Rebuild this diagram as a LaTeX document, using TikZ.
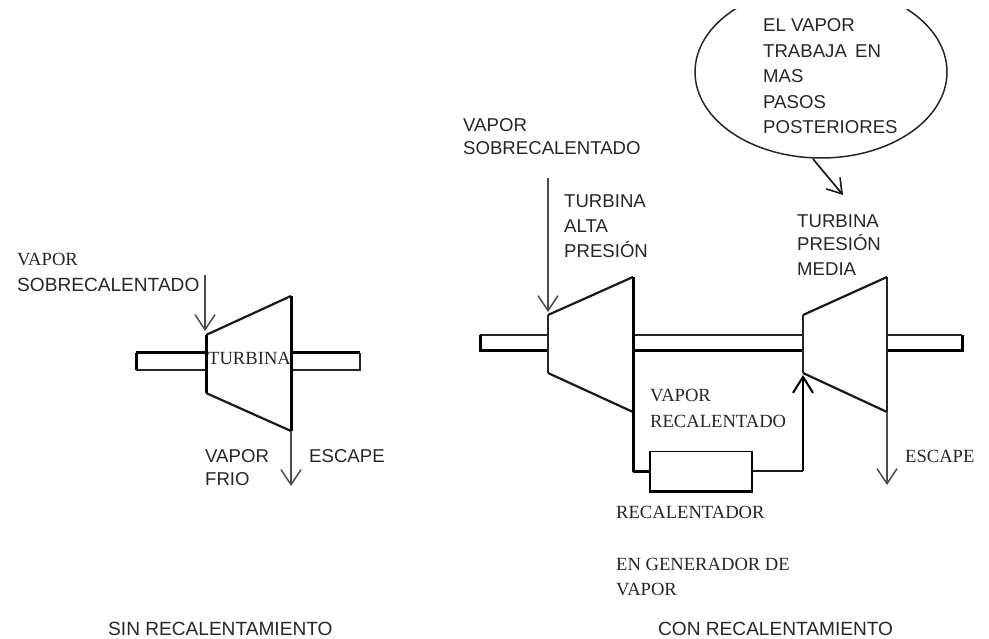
\documentclass[tikz,border=0pt]{standalone}
\usepackage{fontspec}
\setmainfont{Liberation Serif}
\newfontfamily\lsans{Liberation Sans}
\usetikzlibrary{arrows.meta,shapes.geometric}
\tikzset{
  x=1pt,y=-1pt,
  serif/.style={anchor=base west,inner sep=0pt,text=black!85,font=\fontsize{18.6}{20}\selectfont},
  sans/.style={anchor=base west,inner sep=0pt,text=black!85,font=\fontsize{18.6}{20}\selectfont\lsans},
  sansbig/.style={anchor=base west,inner sep=0pt,text=black!85,font=\fontsize{19.1}{20}\selectfont\lsans},
  thin line/.style={draw=black!85,line width=1.4pt},
  body/.style={draw=black!90,line width=2.2pt,line join=round},
  thick line/.style={draw=black,line width=3pt},
  flow/.style={draw=black!70,line width=1.5pt,-{Straight Barb[length=15pt,width=20pt,line width=1.5pt]}},
}
\begin{document}
\begin{tikzpicture}
\useasboundingbox (0,0) rectangle (989,639);
% left turbine
\coordinate (a1) at (206,335); \coordinate (a2) at (291,296);
\coordinate (a3) at (291,431); \coordinate (a4) at (206,393);
\coordinate (as1) at (136,353); \coordinate (as2) at (136,370);
\coordinate (as3) at (360,353); \coordinate (as4) at (360,370);
\draw[thick line] (a1|-as1) -- (as1);
\draw[thick line] (as1) -- (as2);
\draw[thin line] (as2) -- (a1|-as2);
\draw[thick line] (a2|-as3) -- (as3);
\draw[thin line] (as3) -- (as4) -- (a2|-as4);
\draw[body] (a1) -- (a2);
\draw[body] (a4) -- (a3);
\draw[thick line] (a1) -- (a4);
\draw[thick line] (a2) -- (a3);
\coordinate (ain) at (205,275); \coordinate (aintip) at (205,331);
\draw[flow] (ain) -- (aintip);
\coordinate (aout) at (291,486);
\draw[flow] (a3) -- (aout);
\node[serif] (t1) at (17,266) {VAPOR};
\node[sansbig] (t2) at (17,292) {SOBRECALENTADO};
\node[serif] (t3) at (208,365) {TURBINA};
\node[sans] (t4) at (205,462) {VAPOR};
\node[sans] (t5) at (205,485) {FRIO};
\node[sans] (t6) at (309,462) {ESCAPE};
% right turbines
\coordinate (b1) at (548,315); \coordinate (b2) at (633,277);
\coordinate (b3) at (633,412); \coordinate (b4) at (548,373);
\coordinate (c1) at (803,315); \coordinate (c2) at (887,277);
\coordinate (c3) at (887,412); \coordinate (c4) at (803,373);
\coordinate (bs1) at (480,335); \coordinate (bs2) at (480,351);
\coordinate (cs1) at (962,335); \coordinate (cs2) at (962,351);
\draw[thin line] (b1|-bs1) -- (bs1);
\draw[thick line] (bs1) -- (bs2) -- (b1|-bs2);
\draw[thin line] (b2|-bs1) -- (c1|-bs1);
\draw[thick line] (b2|-bs2) -- (c1|-bs2);
\draw[thin line] (c2|-cs1) -- (cs1);
\draw[thick line] (cs1) -- (cs2) -- (c2|-cs2);
\draw[body] (b1) -- (b2);
\draw[body] (b4) -- (b3);
\draw[thin line] (b1) -- (b4);
\draw[thick line] (b2) -- (b3);
\draw[body] (c1) -- (c2);
\draw[body] (c4) -- (c3);
\draw[thin line] (c1) -- (c4);
\draw[thin line] (c2) -- (c3);
% reheater
\node[draw=black,line width=1.4pt,minimum width=102pt,minimum height=39pt,inner sep=0pt] (rh) at (701,471) {};
\draw[thick line] (rh.south west) -- (rh.south east);
\draw[thick line,line join=round] (b3) -- (b3|-rh.west) -- (rh.west);
\draw[body] (rh.east) -- (c4|-rh.east);
\coordinate (rtip) at (803,375);
\draw[draw=black,line width=2pt,-{Straight Barb[length=16pt,width=20pt,line width=2pt]}] (c4|-rh.east) -- (rtip);
\coordinate (bin) at (548,178); \coordinate (bintip) at (548,312);
\draw[flow] (bin) -- (bintip);
\coordinate (cout) at (887,485);
\draw[flow] (c3) -- (cout);
% bubble
\begin{scope}
\clip (650,10) rectangle (989,200);
\node[draw=black!85,line width=1.5pt,ellipse,minimum width=252pt,minimum height=172pt,inner sep=0pt] (bub) at (821,72) {};
\end{scope}
\coordinate (bubbase) at (813,159);
\coordinate (bubtip) at (843,195);
\draw[draw=black!90,line width=1.7pt,-{Straight Barb[length=14pt,width=18pt,line width=1.6pt]}] (bubbase) -- (bubtip);
% right texts
\node[sans] at (463,132) {VAPOR};
\node[sans] at (463,155) {SOBRECALENTADO};
\node[sans] at (564,208) {TURBINA};
\node[sans] at (564,233) {ALTA};
\node[sans] at (564,258) {PRESIÓN};
\node[sans] at (763,32) {EL VAPOR};
\node[sans] at (763,58) {TRABAJA\, EN};
\node[sans] at (763,83) {MAS};
\node[sans] at (763,109) {PASOS};
\node[sans] at (763,134) {POSTERIORES};
\node[sans] at (797,228) {TURBINA};
\node[sans] at (797,251) {PRESIÓN};
\node[sans] at (797,276) {MEDIA};
\node[serif] at (650,402) {VAPOR};
\node[serif] at (650,427) {RECALENTADO};
\node[serif] at (905,462) {ESCAPE};
\node[serif] at (616,518) {RECALENTADOR};
\node[serif] at (616,570) {EN GENERADOR DE};
\node[serif] at (616,595) {VAPOR};
\node[sansbig] at (108,635) {SIN RECALENTAMIENTO};
\node[sansbig] at (658,635) {CON RECALENTAMIENTO};
\end{tikzpicture}
\end{document}
